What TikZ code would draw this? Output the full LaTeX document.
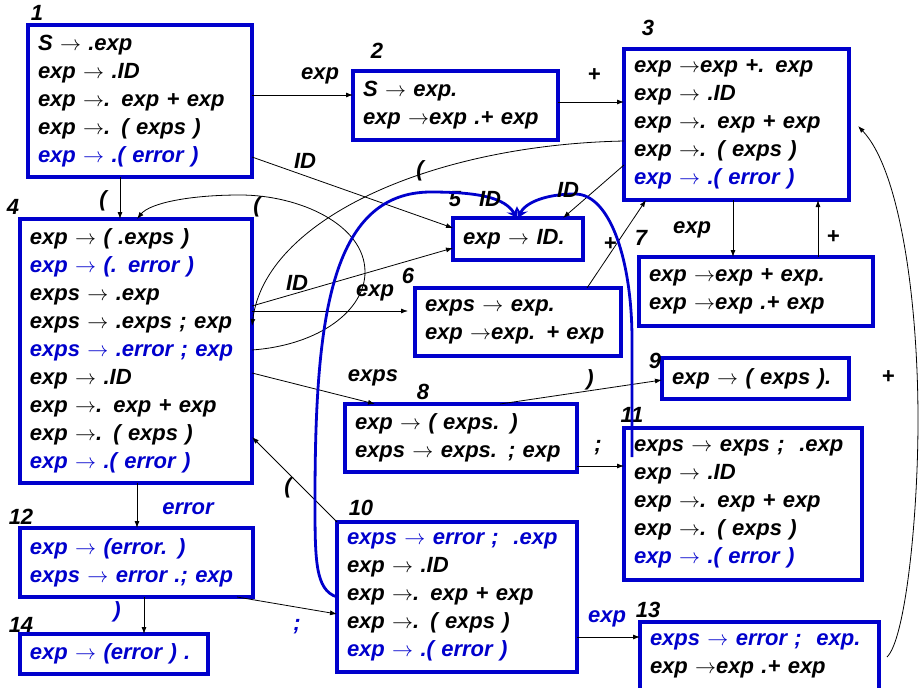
\documentclass[tikz,border=0pt]{standalone}
\usepackage{graphicx}
\usepackage{fontspec}
\setmainfont{Liberation Sans}
\usetikzlibrary{arrows.meta}
\definecolor{bl}{RGB}{0,0,204}
\newcommand\myarr{\resizebox{21pt}{!}{$\rightarrow$}}
\newcommand\tfont{\bfseries\itshape\fontsize{22}{28}\selectfont}
\newcommand\bt[1]{\textcolor{bl}{#1}}
\tikzset{
  statebox/.style={draw=bl, line width=3.6pt, rectangle, anchor=north west,
    inner xsep=10pt, inner ysep=0pt, outer sep=0pt, align=left, font=\tfont},
  lab/.style={font=\tfont, inner sep=0pt},
  blab/.style={font=\tfont, inner sep=0pt, text=bl},
  con/.style={draw, line width=0.8pt, -{Latex[length=7pt,width=5pt]}},
  bcon/.style={draw=bl, line width=2.8pt, -{Stealth[length=10pt,width=12pt,inset=4pt]}}
}
\begin{document}
\begin{tikzpicture}[x=1pt,y=-1pt]
\path[use as bounding box, clip] (0,0) rectangle (922,688);
% boxes
\node[statebox, minimum width=224pt, minimum height=152pt, text width=204pt] (n1) at (28,25)
 {\mbox{S \myarr{} .exp}\\ \mbox{exp \myarr{} .ID}\\ \mbox{exp \myarr. exp + exp}\\ \mbox{exp \myarr. ( exps )}\\ \mbox{\bt{exp \myarr{} .( error )}}};
\node[statebox, minimum width=205pt, minimum height=69pt, text width=185pt] (n2) at (353,71)
 {\mbox{S \myarr{} exp.}\\ \mbox{exp \myarr exp .+ exp}};
\node[statebox, minimum width=225pt, minimum height=151pt, text width=205pt] (n3) at (624,49)
 {\mbox{exp \myarr exp +. exp}\\ \mbox{exp \myarr{} .ID}\\ \mbox{exp \myarr. exp + exp}\\ \mbox{exp \myarr. ( exps )}\\ \mbox{\bt{exp \myarr{} .( error )}}};
\node[statebox, minimum width=232pt, minimum height=264pt, text width=212pt] (n4) at (20,219)
 {\mbox{exp \myarr{} ( .exps )}\\ \mbox{\bt{exp \myarr{} (. error )}}\\ \mbox{exps \myarr{} .exp}\\ \mbox{exps \myarr{} .exps ; exp}\\ \mbox{\bt{exps \myarr{} .error ; exp}}\\ \mbox{exp \myarr{} .ID}\\ \mbox{exp \myarr. exp + exp}\\ \mbox{exp \myarr. ( exps )}\\ \mbox{\bt{exp \myarr{} .( error )}}};
\node[statebox, minimum width=130pt, minimum height=42pt, text width=110pt] (n5) at (453,218)
 {\mbox{exp \myarr{} ID.}};
\node[statebox, minimum width=206pt, minimum height=68pt, text width=186pt] (n6) at (415,288)
 {\mbox{exps \myarr{} exp.}\\ \mbox{exp \myarr exp. + exp}};
\node[statebox, minimum width=234pt, minimum height=69pt, text width=214pt] (n7) at (639,257)
 {\mbox{exp \myarr exp + exp.}\\ \mbox{exp \myarr exp .+ exp}};
\node[statebox, minimum width=232pt, minimum height=68pt, text width=212pt] (n8) at (345,404)
 {\mbox{exp \myarr{} ( exps. )}\\ \mbox{exps \myarr{} exps. ; exp}};
\node[statebox, minimum width=187pt, minimum height=41pt, text width=167pt] (n9) at (662,358)
 {\mbox{exp \myarr{} ( exps ).}};
\node[statebox, minimum width=240pt, minimum height=150pt, text width=220pt] (n10) at (337,522)
 {\mbox{\bt{exps \myarr{} error ;\ \ .exp}}\\ \mbox{exp \myarr{} .ID}\\ \mbox{exp \myarr. exp + exp}\\ \mbox{exp \myarr. ( exps )}\\ \mbox{\bt{exp \myarr{} .( error )}}};
\node[statebox, minimum width=238pt, minimum height=152pt, text width=218pt] (n11) at (624,428)
 {\mbox{exps \myarr{} exps ;\ \ .exp}\\ \mbox{exp \myarr{} .ID}\\ \mbox{exp \myarr. exp + exp}\\ \mbox{exp \myarr. ( exps )}\\ \mbox{\bt{exp \myarr{} .( error )}}};
\node[statebox, minimum width=233pt, minimum height=69pt, text width=213pt, text=bl] (n12) at (20,528)
 {\mbox{exp \myarr{} (error. )}\\ \mbox{exps \myarr{} error .; exp}};
\node[statebox, minimum width=239pt, minimum height=68pt, text width=219pt] (n13) at (640,622)
 {\mbox{\bt{exps \myarr{} error ;\ \ exp.}}\\ \mbox{exp \myarr exp .+ exp}};
\node[statebox, minimum width=188pt, minimum height=40pt, text width=168pt, text=bl] (n14) at (20,634)
 {\mbox{exp \myarr{} (error ) .}};
% state numbers
\node[lab] (k1) at (37,13) {1};
\node[lab] (k2) at (377,51) {2};
\node[lab] (k3) at (648,28) {3};
\node[lab] (k4) at (13,207) {4};
\node[lab] (k5) at (455,199) {5};
\node[lab] (k6) at (408,276) {6};
\node[lab] (k7) at (641,238) {7};
\node[lab] (k8) at (423,392) {8};
\node[lab] (k9) at (655,361) {9};
\node[lab] (k10) at (361,508) {10};
\node[lab] (k11) at (632,415) {11};
\node[lab] (k12) at (21,517) {12};
\node[lab] (k13) at (648,610) {13};
\node[lab] (k14) at (21,625) {14};
% black connectors
\draw[con] ([yshift=-70pt]n1.north east) -- ([yshift=-24pt]n2.north west);
\draw[con] ([yshift=-31pt]n2.north east) -- ([yshift=-53pt]n3.north west);
\draw[con] ([yshift=-132pt]n1.north east) -- ([yshift=-10pt]n5.north west);
\draw[con] ([xshift=92pt]n1.south west) -- ([xshift=100pt]n4.north west);
\draw[con] ([yshift=-131pt]n4.north east) .. controls (320,345) and (365,310) .. (365,272)
  .. controls (365,225) and (300,195) .. (240,195) .. controls (190,195) and (150,203) .. ([xshift=117pt]n4.north west);
\draw[con] ([yshift=-92pt]n3.north west) .. controls (430,145) and (265,220) .. ([yshift=-107pt]n4.north east);
\draw[con] ([yshift=-87pt]n4.north east) -- ([yshift=-30pt]n5.north west);
\draw[con] ([yshift=-92pt]n4.north east) -- ([xshift=-7pt,yshift=-23pt]n6.north west);
\draw[con] ([yshift=-154pt]n4.north east) -- ([xshift=30pt]n8.north west);
\draw[con] (n10.north west) -- ([yshift=-218pt]n4.north east);
\draw[con] ([xshift=-34pt]n6.north east) -- ([xshift=22pt]n3.south west);
\draw[con] ([yshift=-116pt]n3.north west) -- ([xshift=-20pt]n5.north east);
\draw[con] ([xshift=109pt]n3.south west) -- ([xshift=94pt]n7.north west);
\draw[con] ([xshift=179pt]n7.north west) -- ([xshift=194pt]n3.south west);
\draw[con] ([xshift=155pt]n8.north west) -- ([yshift=-22pt]n9.north west);
\draw[con] ([yshift=-62pt]n8.north east) -- ([yshift=-38pt]n11.north west);
\draw[con] ([xshift=117pt]n4.south west) -- ([xshift=117pt]n12.north west);
\draw[con] ([xshift=124pt]n12.south west) -- ([xshift=124pt]n14.north west);
\draw[con] ([xshift=217pt]n12.south west) -- ([yshift=-92pt]n10.north west);
\draw[con] ([yshift=-115pt]n10.north east) -- ([yshift=-15pt]n13.north west);
\draw[con] ([xshift=8pt,yshift=-35pt]n13.north east) .. controls (905,640) and (918,520) .. (918,420)
  .. controls (918,300) and (900,170) .. ([xshift=9pt,yshift=-77pt]n3.north east);
% blue connectors
\draw[bcon] ([yshift=-75pt]n10.north west) .. controls (315,590) and (315,560) .. (315,500)
  .. controls (315,320) and (330,193) .. (430,192) .. controls (480,192) and (505,198) .. ([xshift=64pt]n5.north west);
\draw[bcon] ([xshift=8pt,yshift=-29pt]n11.north west) -- (632,340) .. controls (632,260) and (610,194) .. (575,194)
  .. controls (545,194) and (525,203) .. ([xshift=65pt]n5.north west);
% edge labels
\node[lab] (e1) at (320,76) {exp};
\node[lab] (e2) at (305,161) {ID};
\node[lab] (e3) at (103,201) {(};
\node[lab] (e4) at (257,207) {(};
\node[lab] (e5) at (420,171) {(};
\node[lab] (e6) at (594,75) {+};
\node[lab] (e7) at (490,199) {ID};
\node[lab] (e8) at (568,190) {ID};
\node[lab] (e9) at (610,244) {+};
\node[lab] (e10) at (692,230) {exp};
\node[lab] (e11) at (833,237) {+};
\node[lab] (e12) at (297,283) {ID};
\node[lab] (e13) at (375,293) {exp};
\node[lab] (e14) at (373,378) {exps};
\node[lab] (e15) at (590,380) {)};
\node[lab] (e16) at (598,448) {;};
\node[lab] (e17) at (888,377) {+};
\node[lab] (e18) at (288,488) {(};
\node[blab] (e19) at (188,509) {error};
\node[blab] (e20) at (117,612) {)};
\node[blab] (e21) at (297,627) {;};
\node[blab] (e22) at (607,619) {exp};
\end{tikzpicture}
\end{document}
